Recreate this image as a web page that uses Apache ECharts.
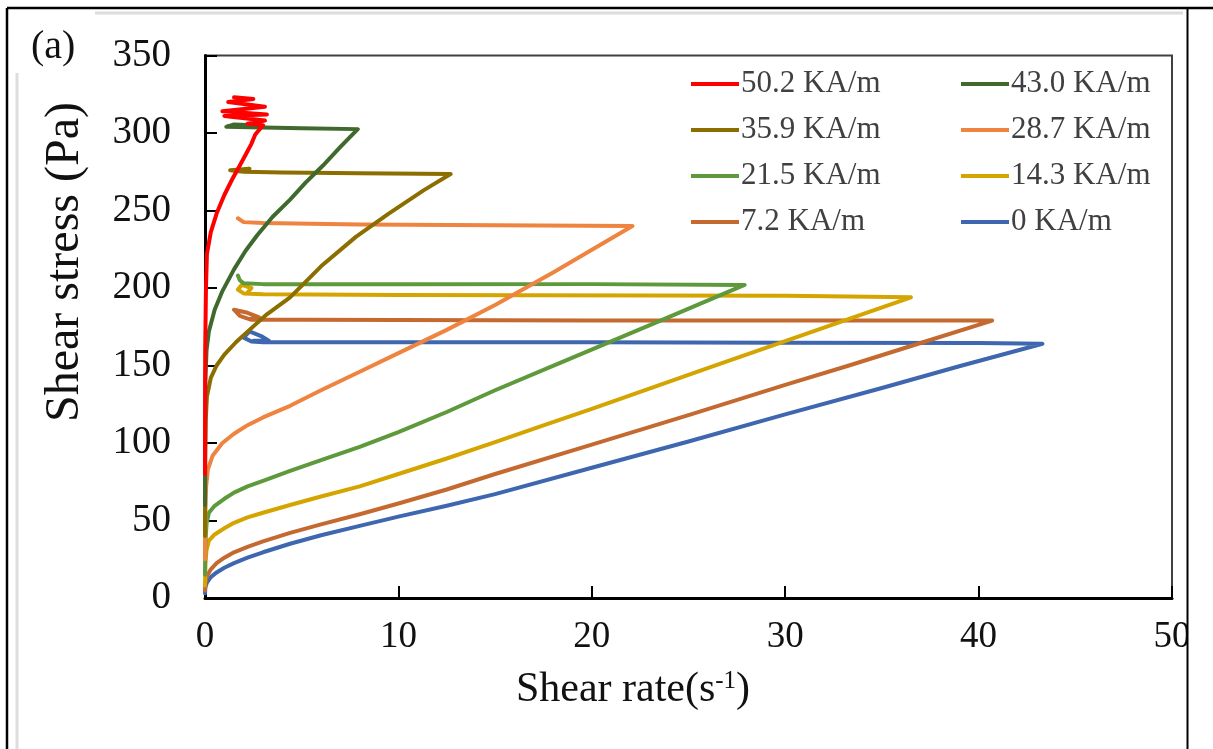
<!DOCTYPE html>
<html>
<head>
<meta charset="utf-8">
<script src="https://cdn.jsdelivr.net/npm/echarts@6/dist/echarts.min.js"></script>
<style>
html,body{margin:0;padding:0;background:#fff;}
#chart{width:1213px;height:749px;}
</style>
</head>
<body>
<div id="chart"></div>
<script>
// ---- data ----
const seriesNames = ['0 KA/m','7.2 KA/m','14.3 KA/m','21.5 KA/m','28.7 KA/m','35.9 KA/m','43.0 KA/m','50.2 KA/m'];
const seriesColors = ['#3F67B0','#C46A30','#D4A500','#5E9A3C','#EE8440','#8C6D00','#40692E','#FF0000'];

const x0KA  = [0,0.02,0.1,0.3,0.6,1,1.5,2.2,3,4.4,6,8,10,12.5,15,20,25,30,35,39,43.3, 40,30,20,10,3,2.4,2.0,2.3,2.9,3.3,2.5];
const y0KA  = [3,7,10,13.5,16.5,19.5,22.5,26,29.5,35,40.5,46.5,52.5,59.5,67,84,101,118.5,135.5,149.5,164, 164.5,164.7,165,165,165,165.5,168,172,169,166,166];

const x7KA  = [0,0.02,0.1,0.3,0.6,1,1.5,2.2,3,4.4,6,8,10,12.5,15,20,25,30,33.3,37,40.7, 35,20,5,2.4,1.8,1.5,2.2,2.8,2.3];
const y7KA  = [5,10,14,18.5,22.5,26,29.5,33,36.5,42,47.5,54,61,70,80,99,118,137.5,150,164.5,179, 179,179,179.5,179.5,182,186,184,181,180];

const x14KA = [0,0.02,0.08,0.2,0.5,1,1.5,2.2,3,4.4,6,8,10,12.5,15,17.5,20,26.1,30,36.5, 30,10,3,2,1.7,1.9,2.4,2.2];
const y14KA = [8,22,31,37,41,45,48.5,52,55,60,65.5,72,80,90,100.5,111.4,122,148.8,165.7,194, 195,195.5,196,196.5,199,202,200,197];

const x21KA = [0,0.02,0.08,0.2,0.5,1,1.5,2.2,3,4.4,6,8,10,12.5,15,18.3,23,27.9, 20,10,3,2,1.8,1.7];
const y21KA = [15,35,48,55,59.5,64,68,72,75.5,82,89,97.5,107,120,134,151.4,176,202, 202.5,202.5,202.5,203,205,208];

const x28KA = [0,0.02,0.06,0.15,0.4,0.9,1.5,2.2,3,4.4,6,8,10,12.5,15,18,22.1, 15,8,3,2,1.7];
const y28KA = [25,55,72,83,92,100,106,111.5,116.5,124,134,146,158,173,189,210,240, 240.5,241,242,242.5,245];

const x35KA = [0,0.01,0.04,0.1,0.3,0.6,1,1.6,2.3,3.2,4.4,6,7.8,9.5,11.3,12.7, 8,4,2,1.3,2.3,1.8];
const y35KA = [40,90,115,130,142,150,157,165,173,183,194,214,233,248,263,273.5, 274,274.5,275,276,277,275.5];

const x43KA = [0,0.02,0.08,0.2,0.5,0.9,1.5,2.1,2.7,3.5,4.4,5.2,6.1,7,7.9, 5,3,1.1,1.5,2.5,2.0];
const y43KA = [60,140,160,172,186,198,212,224,234,246,257,268,279,291,302.5, 303,303.5,304,305.5,305,304];

const x50KA = [0,0.01,0.05,0.1,0.3,0.6,1,1.4,1.8,2.1,2.4,2.6,3.0,2.2,3.1,1.0,3.2,0.9,3.1,1.2,2.5,1.5];
const y50KA = [80,160,200,222,236,248,260,270,279,286,293,299,305,306,308,311,312,314,317,320,322,323];

const xTicks = [0,10,20,30,40,50];
const yTicks = [0,50,100,150,200,250,300,350];

const legendCol1 = ['50.2 KA/m','35.9 KA/m','21.5 KA/m','7.2 KA/m'];
const legendCol2 = ['43.0 KA/m','28.7 KA/m','14.3 KA/m','0 KA/m'];

// ---- chart ----
const xs = [x0KA,x7KA,x14KA,x21KA,x28KA,x35KA,x43KA,x50KA];
const ys = [y0KA,y7KA,y14KA,y21KA,y28KA,y35KA,y43KA,y50KA];
const FONT = '"Liberation Serif","Times New Roman",serif';

const series = seriesNames.map((n,i)=>({
  name:n, type:'line', showSymbol:false, symbol:'none',
  data: xs[i].map((x,j)=>[x, ys[i][j]]),
  lineStyle:{width:4, color:seriesColors[i], join:'round', cap:'round'},
  itemStyle:{color:seriesColors[i]},
  clip:true, animation:false, z: 2+i
}));

const legendCommon = {
  orient:'vertical', icon:'rect', itemWidth:48, itemHeight:4, itemGap:14,
  textStyle:{fontFamily:FONT, fontSize:31, color:'#404040', lineHeight:32, padding:[0,0,0,-3]}
};

const chart = echarts.init(document.getElementById('chart'), null, {renderer:'canvas'});
chart.setOption({
  backgroundColor:'#fff',
  animation:false,
  grid:{left:205, right:41, top:55.5, bottom:151, show:true, borderColor:'#404040', borderWidth:2, backgroundColor:'transparent'},
  xAxis:{
    type:'value', min:xTicks[0], max:xTicks[xTicks.length-1], interval:10,
    axisLine:{show:true, onZero:false, lineStyle:{color:'#000', width:3}},
    axisTick:{show:true, inside:true, length:12, lineStyle:{color:'#000', width:2}},
    axisLabel:{fontFamily:FONT, fontSize:37, color:'#111', margin:21},
    splitLine:{show:false}
  },
  yAxis:{
    type:'value', min:yTicks[0], max:yTicks[yTicks.length-1], interval:50,
    axisLine:{show:true, onZero:false, lineStyle:{color:'#000', width:3}},
    axisTick:{show:true, inside:true, length:12, lineStyle:{color:'#000', width:2}},
    axisLabel:{fontFamily:FONT, fontSize:39, color:'#111', margin:34},
    splitLine:{show:false}
  },
  legend:[
    Object.assign({left:686, top:63, data:legendCol1}, legendCommon),
    Object.assign({left:956, top:63, data:legendCol2}, legendCommon)
  ],
  series: series,
  graphic:[
    {type:'rect', shape:{x:1188, y:20, width:25, height:729}, style:{fill:'#fff'}, z:100, silent:true},
    {type:'line', shape:{x1:17, y1:73, x2:17, y2:749}, style:{stroke:'#dddddd', lineWidth:3}, z:101, silent:true},
    {type:'line', shape:{x1:95, y1:13, x2:1183, y2:13}, style:{stroke:'#dddddd', lineWidth:3}, z:101, silent:true},
    {type:'line', shape:{x1:7, y1:8, x2:7, y2:749}, style:{stroke:'#000', lineWidth:2.5}, z:102, silent:true},
    {type:'line', shape:{x1:7, y1:8, x2:1213, y2:8}, style:{stroke:'#000', lineWidth:2.5}, z:102, silent:true},
    {type:'line', shape:{x1:1187.5, y1:8, x2:1187.5, y2:749}, style:{stroke:'#000', lineWidth:2}, z:102, silent:true},
    {type:'text', x:31, y:47, style:{text:'(a)', font:'40px '+FONT, fill:'#111', textVerticalAlign:'middle'}, z:102, silent:true},
    {type:'text', x:65, y:262, rotation:Math.PI/2,
      style:{text:'Shear stress (Pa)', font:'48px '+FONT, fill:'#111', textAlign:'center', textVerticalAlign:'middle'}, z:102, silent:true},
    {type:'text', x:633, y:690,
      style:{text:'{a|Shear rate(s}{b|-1}{a|)}', textAlign:'center', textVerticalAlign:'middle', fill:'#111',
        rich:{a:{fontFamily:FONT, fontSize:42, color:'#111'}, b:{fontFamily:FONT, fontSize:25, color:'#111', verticalAlign:'top'}}}, z:102, silent:true}
  ]
});
</script>
</body>
</html>
